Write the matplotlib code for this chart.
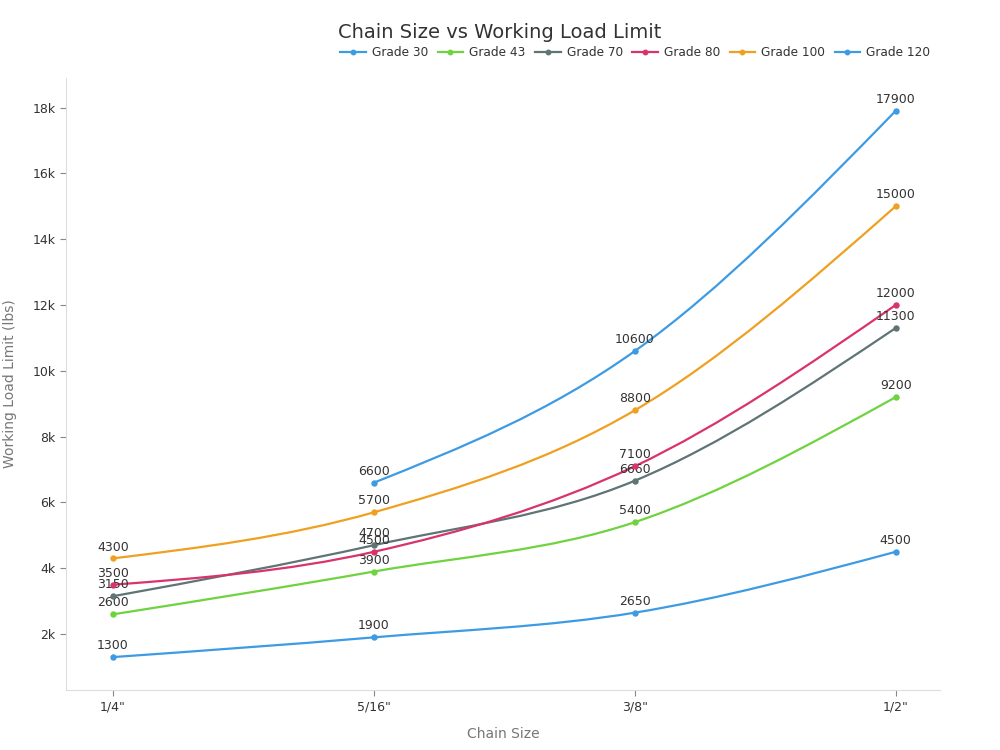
import numpy as np
from matplotlib import pyplot as plt
from matplotlib.path import Path
from matplotlib.patches import PathPatch
from matplotlib.ticker import FuncFormatter

sizes = ['1/4"', '5/16"', '3/8"', '1/2"']
grades = ['Grade 30', 'Grade 43', 'Grade 70', 'Grade 80', 'Grade 100', 'Grade 120']
grade_30 = [1300, 1900, 2650, 4500]
grade_43 = [2600, 3900, 5400, 9200]
grade_70 = [3150, 4700, 6660, 11300]
grade_80 = [3500, 4500, 7100, 12000]
grade_100 = [4300, 5700, 8800, 15000]
grade_120 = [None, 6600, 10600, 17900]
colors = ['#3d9be3', '#6fd33f', '#5f7475', '#d9336c', '#f0a020', '#3d9be3']

series = [grade_30, grade_43, grade_70, grade_80, grade_100, grade_120]


def _slope3(x, y, i):
    h0 = x[i] - x[i - 1]
    h1 = x[i + 1] - x[i]
    s0 = (y[i] - y[i - 1]) / h0
    s1 = (y[i + 1] - y[i]) / h1
    p = (s0 * h1 + s1 * h0) / (h0 + h1)
    return (np.sign(s0) + np.sign(s1)) * min(abs(s0), abs(s1), 0.5 * abs(p))


def monotone_path(x, y):
    # bezier segments like d3 curveMonotoneX
    n = len(x)
    t = [0.0] * n
    for i in range(1, n - 1):
        t[i] = _slope3(x, y, i)
    t[0] = (3 * (y[1] - y[0]) / (x[1] - x[0]) - t[1]) / 2
    t[-1] = (3 * (y[-1] - y[-2]) / (x[-1] - x[-2]) - t[-2]) / 2
    verts = [(x[0], y[0])]
    codes = [Path.MOVETO]
    for i in range(n - 1):
        dx = (x[i + 1] - x[i]) / 3
        verts += [(x[i] + dx, y[i] + dx * t[i]),
                  (x[i + 1] - dx, y[i + 1] - dx * t[i + 1]),
                  (x[i + 1], y[i + 1])]
        codes += [Path.CURVE4] * 3
    return Path(verts, codes)


fig = plt.figure(figsize=(10, 7.5), dpi=100)
ax = fig.add_axes([0.066, 0.08, 0.874, 0.816])

for name, vals, col in zip(grades, series, colors):
    xs = [i for i, v in enumerate(vals) if v is not None]
    ys = [v for v in vals if v is not None]
    ax.add_patch(PathPatch(monotone_path(xs, ys), facecolor='none',
                           edgecolor=col, lw=1.6, zorder=2))
    ax.plot(xs, ys, ls='none', marker='o', ms=3.6, color=col, zorder=3)
    ax.plot([], [], color=col, marker='o', ms=3.2, lw=1.6, label=name)
    for xv, yv in zip(xs, ys):
        ax.annotate(str(yv), (xv, yv), xytext=(0, 3.5), textcoords='offset points',
                    ha='center', va='bottom', fontsize=9, color='#333333')

ax.set_xlim(-0.18, 3.17)
ax.set_ylim(300, 18900)
ax.set_xticks(range(len(sizes)))
ax.set_xticklabels(sizes)
ax.set_yticks(range(2000, 18001, 2000))
ax.yaxis.set_major_formatter(FuncFormatter(lambda v, p: '%dk' % (v / 1000)))
ax.tick_params(labelsize=9, colors='#888888', labelcolor='#333333', length=4)

for s in ['top', 'right']:
    ax.spines[s].set_visible(False)
for s in ['left', 'bottom']:
    ax.spines[s].set_color('#dddddd')

ax.set_xlabel('Chain Size', fontsize=10, color='#777777', labelpad=10)
ax.set_ylabel('Working Load Limit (lbs)', fontsize=10, color='#777777', labelpad=11)

fig.text(0.5, 0.957, 'Chain Size vs Working Load Limit', ha='center', va='center',
         fontsize=14, color='#333333')
fig.legend(loc='center right', bbox_to_anchor=(0.941, 0.93), ncol=6,
           frameon=False, fontsize=8.7, handlelength=2.1, columnspacing=0.8,
           handletextpad=0.5, labelcolor='#333333')

plt.savefig('out.png', dpi=100)
plt.close()
